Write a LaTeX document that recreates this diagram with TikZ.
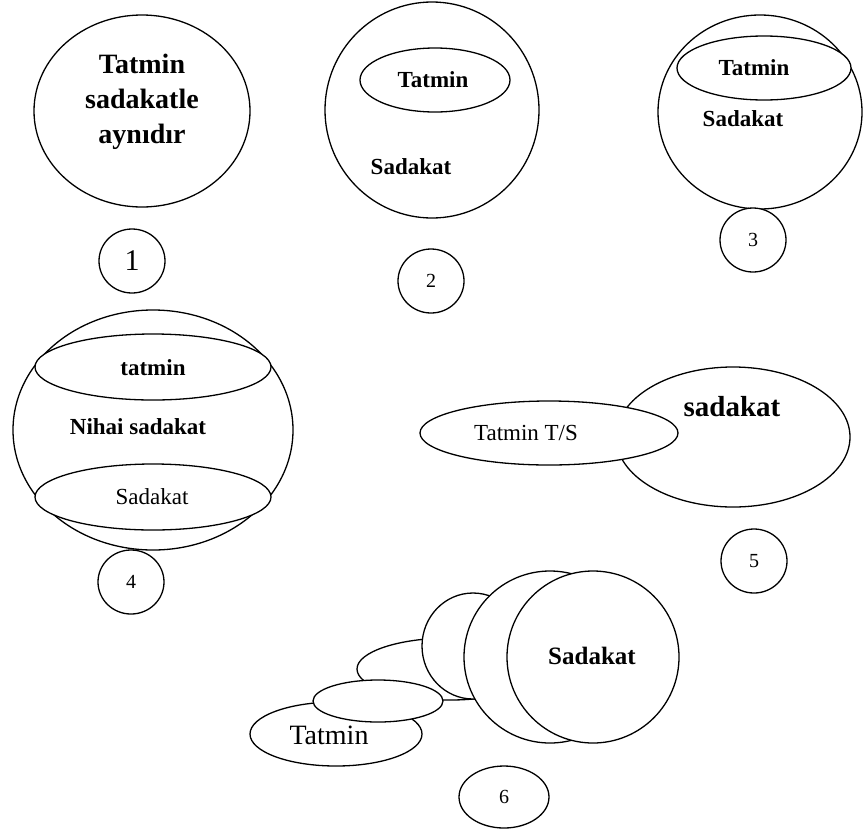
\documentclass[tikz,border=0pt]{standalone}
\usepackage{fontspec}
\setmainfont{Liberation Serif}
\usetikzlibrary{shapes.geometric}

\tikzset{
  blob/.style={draw, ellipse, fill=white, line width=1.3pt, inner sep=0pt},
  numring/.style={blob, minimum width=66pt, minimum height=64pt,
    font=\fontsize{20}{24}\selectfont},
  boldlbl/.style={font=\fontsize{23}{27}\selectfont\bfseries, inner sep=0pt},
  plainlbl/.style={font=\fontsize{23}{27}\selectfont, inner sep=0pt}
}

\begin{document}
\begin{tikzpicture}[x=1pt,y=-1pt]
    \useasboundingbox (0,0) rectangle (864,833);

    % Diagram 1: one set only
    \node[blob, minimum width=216pt, minimum height=192pt] (same) at (142,111) {};
    \node[boldlbl, font=\fontsize{28}{35}\selectfont\bfseries, align=center]
        (sametxt) at (142,102) {Tatmin\\sadakatle\\aynıdır};
    \node[numring, font=\fontsize{30}{34}\selectfont] (num1) at (132,261) {1};

    % Diagram 2: satisfaction inside loyalty
    \node[blob, minimum width=214pt, minimum height=216pt] (loyal2) at (432,110) {};
    \node[blob, minimum width=150pt, minimum height=64pt] (sat2) at (435,80) {};
    \node[boldlbl] (sat2txt) at (433,80) {Tatmin};
    \node[boldlbl] (loyal2txt) at (411,167) {Sadakat};

    % Diagram 3: satisfaction fills the top of loyalty
    \node[blob, minimum width=204pt, minimum height=194pt] (loyal3) at (760,112) {};
    \node[blob, minimum width=174pt, minimum height=64pt] (sat3) at (764,68) {};
    \node[boldlbl] (sat3txt) at (754,68) {Tatmin};
    \node[boldlbl] (loyal3txt) at (743,119) {Sadakat};

    % Diagram 4: ultimate loyalty between two rings
    \node[blob, minimum width=280pt, minimum height=240pt] (final4) at (153,430) {};
    \node[blob, minimum width=236pt, minimum height=66pt] (sat4) at (153,367) {};
    \node[blob, minimum width=236pt, minimum height=66pt] (loyal4) at (153,497) {};
    \node[boldlbl] (sat4txt) at (153,368) {tatmin};
    \node[boldlbl] (final4txt) at (138,427) {Nihai sadakat};
    \node[plainlbl] (loyal4txt) at (152,497) {Sadakat};

    % Diagram 5: satisfaction overlaps loyalty
    \node[blob, minimum width=234pt, minimum height=140pt] (loyal5) at (733,437) {};
    \node[boldlbl, font=\fontsize{29}{33}\selectfont\bfseries] (loyal5txt) at (732,407) {sadakat};
    \node[blob, minimum width=258pt, minimum height=64pt] (sat5) at (549,433) {};
    \node[plainlbl] (sat5txt) at (526,433) {Tatmin T/S};

    % Diagram 6: a chain from satisfaction to loyalty (back to front)
    \node[blob, minimum width=172pt, minimum height=64pt] (chain1) at (336,734) {};
    \node[plainlbl, font=\fontsize{28}{32}\selectfont] (chain1txt) at (329,735) {Tatmin};
    \node[blob, minimum width=186pt, minimum height=62pt] (chain3) at (450,669) {};
    \node[blob, minimum width=130pt, minimum height=42pt] (chain2) at (378,701) {};
    \node[blob, minimum width=102pt, minimum height=106pt] (chain4) at (473,646) {};
    \node[blob, minimum width=172pt, minimum height=172pt] (chain5) at (550,657) {};
    \node[blob, minimum width=172pt, minimum height=172pt] (chain6) at (593,657) {};
    \node[boldlbl, font=\fontsize{25}{29}\selectfont\bfseries] (chain6txt) at (592,656) {Sadakat};
    \node[numring, minimum width=90pt, minimum height=62pt] (num6) at (504,797) {6};

    % Number rings
    \foreach \n/\x/\y in {2/431/281, 3/753/240, 4/131/582, 5/754/561}{
        \node[numring] (num\n) at (\x,\y) {\n};
    }
\end{tikzpicture}
\end{document}
